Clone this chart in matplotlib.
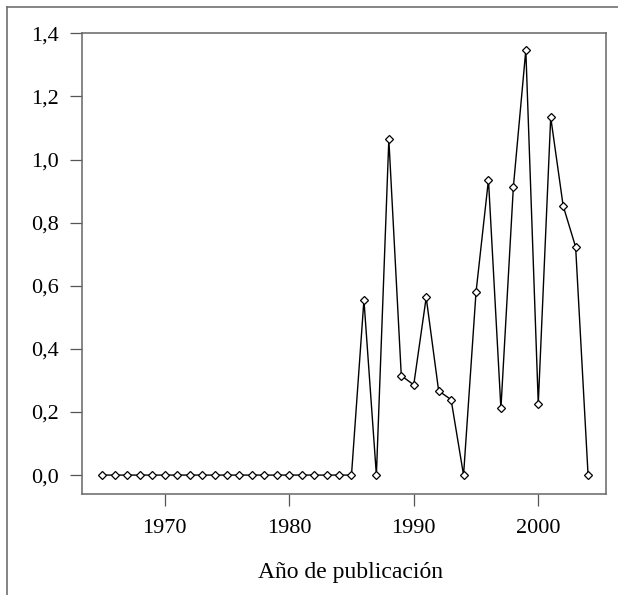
import numpy as np
import matplotlib
matplotlib.use('Agg')
import matplotlib.pyplot as plt
from matplotlib.lines import Line2D

plt.rcParams['font.family'] = ['Liberation Serif', 'DejaVu Serif']

# data
years = list(range(1965, 2005))
values = [0.0] * 21 + [0.555, 0.0, 1.064, 0.315, 0.286, 0.563, 0.267, 0.239, 0.0,
                       0.579, 0.936, 0.211, 0.913, 1.347, 0.226, 1.134, 0.853, 0.723, 0.0]
xticks = [1970, 1980, 1990, 2000]
yticks = [0.0, 0.2, 0.4, 0.6, 0.8, 1.0, 1.2, 1.4]
ytick_labels = ['0,0', '0,2', '0,4', '0,6', '0,8', '1,0', '1,2', '1,4']

fig = plt.figure(figsize=(6.18, 5.95), dpi=100)
fig.set_facecolor('white')
ax = fig.add_axes([0.1327, 0.1692, 0.8479, 0.7748])

ax.plot(years, values, color='black', lw=1.0, marker='D', markersize=4.2,
        markerfacecolor='white', markeredgecolor='black', markeredgewidth=0.9)

ax.set_xlim(1963.36, 2005.44)
ax.set_ylim(-0.061, 1.4)
ax.set_xticks(xticks)
ax.set_xticklabels([str(x) for x in xticks])
ax.set_yticks(yticks)
ax.set_yticklabels(ytick_labels)
ax.tick_params(axis='both', direction='out', length=8.5, width=0.9, color='#555555',
               labelsize=16)
ax.tick_params(axis='x', pad=9.5)
ax.tick_params(axis='y', pad=8)
for s in ax.spines.values():
    s.set_color('#666666')
    s.set_linewidth(1.1)

ax.set_xlabel('Año de publicación', fontsize=17, labelpad=17)
ax.xaxis.label.set_x(0.513)

# outer frame (clipped at right and bottom)
fig.add_artist(Line2D([0.0118, 0.0118], [0.0, 0.9887], transform=fig.transFigure,
                      color='#707070', lw=1.2))
fig.add_artist(Line2D([0.0118, 1.0], [0.9887, 0.9887], transform=fig.transFigure,
                      color='#707070', lw=1.2))

fig.savefig('out.png', dpi=100)
